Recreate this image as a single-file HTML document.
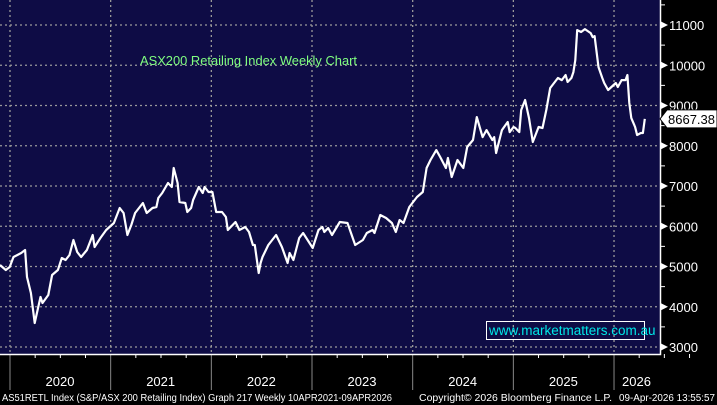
<!DOCTYPE html>
<html><head><meta charset="utf-8"><style>
html,body{margin:0;padding:0;background:#000;}
svg{display:block;font-family:"Liberation Sans",sans-serif;}
</style></head><body>
<svg id="chart" width="717" height="405">
<rect x="0" y="0" width="717" height="405" fill="#000"/>
<rect x="0" y="0" width="660" height="354" fill="#0e0c45"/>
<g id="grid"></g>
<g id="axes"></g>
<text x="140" y="65" fill="#80ff80" font-size="12.5" textLength="217" lengthAdjust="spacingAndGlyphs">ASX200 Retailing Index Weekly Chart</text>
<rect x="486.5" y="321.5" width="158" height="18" fill="none" stroke="#fff" stroke-width="1"/>
<text x="489" y="335" fill="#00e8e8" font-size="13.5">www.marketmatters.com.au</text>
<path id="line" fill="none" stroke="#fff" stroke-width="2.2" stroke-linejoin="round"/>
<g id="lastlabel"></g>
<text x="2" y="401" fill="#fff" font-size="10" textLength="390" lengthAdjust="spacingAndGlyphs">AS51RETL Index (S&amp;P/ASX 200 Retailing Index) Graph 217 Weekly 10APR2021-09APR2026</text>
<text x="419" y="401" fill="#fff" font-size="10" textLength="193" lengthAdjust="spacingAndGlyphs">Copyright© 2026 Bloomberg Finance L.P.</text>
<text x="619" y="401" fill="#fff" font-size="10" textLength="96" lengthAdjust="spacingAndGlyphs">09-Apr-2026 13:55:57</text>
</svg>
<script>
const weeks=[
0,3,5,7,9,11,13,14,16,18,
21,22,25,27,30,32,34,36,38,40,
42,45,48,49,52,55,59,62,64,66,
68,70,74,76,79,81,82,84,87,89,
90,92,93,96,97,99,100,103,105,106,
108,110,112,115,117,118,122,124,127,129,
131,132,134,135,136,139,141,143,146,149,
150,152,155,157,162,165,167,168,170,172,
176,180,184,188,190,193,194,197,200,203,
205,207,209,212,216,219,221,223,226,228,
231,232,234,237,240,242,245,247,250,252,
255,256,257,260,263,264,266,267,269,270,
272,274,276,279,281,283,285,289,291,293,
294,296,297,298,299,301,303,306,307,308,
310,312,313,315,319,320,322,324,325,326,
327,329,330,332,333,334];
const values=[
5037,4913,4987,5236,5285,5335,5409,4739,4341,3596,
4242,4093,4292,4788,4913,5211,5161,5285,5658,5360,
5236,5409,5782,5484,5708,5906,6080,6453,6329,5782,
6030,6329,6577,6329,6453,6478,6701,6825,7074,6974,
7446,7074,6602,6577,6353,6453,6651,6974,6825,6974,
6850,6850,6353,6353,6229,5906,6105,5906,5981,5857,
5534,5534,4838,5087,5236,5534,5658,5782,5484,5087,
5335,5161,5708,5832,5459,5906,5981,5857,5957,5782,
6105,6080,5534,5658,5832,5906,5832,6279,6205,6080,
5857,6155,6080,6478,6726,6850,7446,7645,7893,7720,
7446,7695,7223,7645,7446,7968,8142,8713,8216,8390,
8142,8216,7819,8390,8589,8340,8465,8440,8340,8887,
9136,8688,8092,8465,8440,8887,9434,9682,9632,9757,
9583,9682,9831,10129,10874,10825,10899,10800,10700,10725,
9955,9682,9558,9384,9558,9459,9632,9632,9757,9061,
8688,8465,8266,8316,8316,8667];
const yTicks=[3000,4000,5000,6000,7000,8000,9000,10000,11000];
const years=["2020","2021","2022","2023","2024","2025","2026"];
const lastLabel="8667.38";
const NS="http://www.w3.org/2000/svg";
const X=w=>w*1.9305, Y=v=>347-(v-3000)*0.04025;
const yearX=i=>10+i*100.67;
function mk(t,a,p){const e=document.createElementNS(NS,t);for(const k in a)e.setAttribute(k,a[k]);p.appendChild(e);return e;}
const grid=document.getElementById('grid'),axes=document.getElementById('axes');
yTicks.forEach(v=>{
 const l=mk('line',{x1:0,x2:660,y1:Y(v),y2:Y(v),stroke:'#9a9a9a','stroke-dasharray':'2 3','stroke-width':1.3},grid);
 
 
 const m=mk('path',{d:`M660 ${Y(v)-4}L668 ${Y(v)}L660 ${Y(v)+4}Z`,fill:'#fff'},axes);
 
 
 const t=mk('text',{x:669,y:Y(v)+5,fill:'#fff','font-size':13},axes);
 t.textContent=v;
 
 
 const mn=mk('line',{x1:660,x2:665,y1:Y(v+500),y2:Y(v+500),stroke:'#fff'},axes);
 
 
});
years.forEach((y,i)=>{
 const x=yearX(i);
 const g=mk('line',{x1:x,x2:x,y1:0,y2:354,stroke:'#9a9a9a','stroke-dasharray':'2 3','stroke-width':1.3},grid);
 
 
 const s=mk('line',{x1:x,x2:x,y1:354,y2:390,stroke:'#888'},axes);
 
 
 for(let q=1;q<4;q++){const tk=mk('line',{x1:x+q*25.17,x2:x+q*25.17,y1:354,y2:358,stroke:'#fff'},axes);
 
 }
 const t=mk('text',{x:i==6?x+8:x+50,y:386,fill:'#fff','font-size':13,'text-anchor':i==6?'start':'middle'},axes);
 t.textContent=y;
 
 
});
const ax=mk('path',{d:'M0 354.5H660.5V0',fill:'none',stroke:'#fff','stroke-width':1.5},axes);


const n=Math.min(weeks.length,values.length);
let d='';for(let i=0;i<n;i++)d+=(i?'L':'M')+X(weeks[i]).toFixed(1)+' '+Y(values[i]).toFixed(1);
document.getElementById('line').setAttribute('d',d);
const ly=Y(values[n-1]),ll=document.getElementById('lastlabel');
const bx=mk('path',{d:`M660 ${ly}L667 ${ly-9}H717V${ly+9}H667Z`,fill:'#fff',stroke:'#000'},ll);


const lt=mk('text',{x:668,y:ly+5,fill:'#000','font-size':13},ll);
lt.textContent=lastLabel;


</script>
</body></html>
